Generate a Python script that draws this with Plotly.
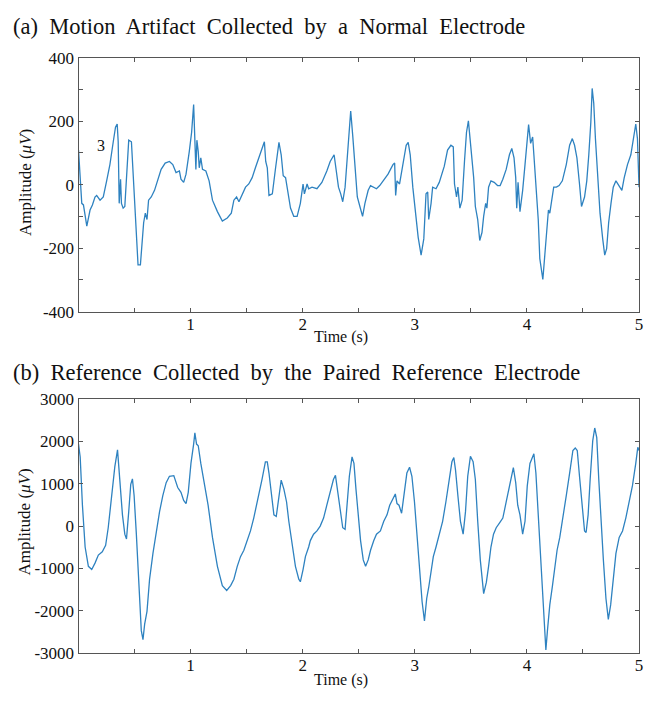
import plotly.graph_objects as go

# ---------------- data ----------------
time_a = [0.000, 0.015, 0.029, 0.044, 0.074, 0.103, 0.124, 0.147, 0.162, 0.192, 0.221, 0.251, 0.280, 0.310,
          0.330, 0.345, 0.354, 0.363, 0.375, 0.383, 0.398, 0.413, 0.434, 0.448, 0.472, 0.487, 0.501, 0.516,
          0.531, 0.552, 0.566, 0.581, 0.596, 0.611, 0.625, 0.649, 0.678, 0.708, 0.737, 0.773, 0.811, 0.841,
          0.870, 0.900, 0.914, 0.938, 0.959, 0.988, 1.009, 1.027, 1.038, 1.047, 1.056, 1.068, 1.077, 1.091,
          1.106, 1.136, 1.165, 1.195, 1.239, 1.283, 1.327, 1.363, 1.386, 1.410, 1.431, 1.460, 1.490, 1.519,
          1.549, 1.578, 1.608, 1.637, 1.658, 1.670, 1.684, 1.699, 1.729, 1.758, 1.788, 1.808, 1.826, 1.847,
          1.867, 1.891, 1.920, 1.950, 1.979, 2.003, 2.015, 2.039, 2.053, 2.083, 2.127, 2.171, 2.215, 2.245,
          2.280, 2.298, 2.319, 2.339, 2.357, 2.378, 2.398, 2.416, 2.428, 2.446, 2.466, 2.487, 2.510, 2.534,
          2.555, 2.584, 2.605, 2.628, 2.658, 2.687, 2.717, 2.761, 2.805, 2.820, 2.829, 2.841, 2.864, 2.894,
          2.923, 2.941, 2.959, 2.982, 3.006, 3.030, 3.056, 3.080, 3.100, 3.115, 3.124, 3.145, 3.159, 3.189,
          3.218, 3.263, 3.292, 3.322, 3.343, 3.354, 3.372, 3.384, 3.402, 3.422, 3.443, 3.461, 3.478, 3.496,
          3.511, 3.525, 3.540, 3.561, 3.579, 3.599, 3.614, 3.632, 3.643, 3.658, 3.679, 3.708, 3.738, 3.761,
          3.785, 3.815, 3.844, 3.865, 3.885, 3.900, 3.909, 3.921, 3.938, 3.962, 3.983, 4.003, 4.015, 4.033,
          4.051, 4.062, 4.080, 4.101, 4.115, 4.130, 4.142, 4.157, 4.174, 4.192, 4.204, 4.219, 4.239, 4.263,
          4.287, 4.316, 4.351, 4.381, 4.405, 4.425, 4.446, 4.469, 4.487, 4.514, 4.534, 4.552, 4.570, 4.582,
          4.596, 4.611, 4.632, 4.652, 4.676, 4.694, 4.711, 4.729, 4.750, 4.770, 4.794, 4.818, 4.847, 4.868,
          4.897, 4.927, 4.956, 4.971, 4.986, 5.000]
amp_a = [109, 22, -59, -64, -131, -80, -64, -39, -34, -49, -39, 12, 63, 135,
         181, 191, 135, -59, 17, -59, -74, -69, 43, 140, 135, 43, -80, -171,
         -253, -253, -171, -120, -90, -110, -49, -39, -18, 12, 48, 68, 73, 63,
         38, 43, 17, 7, 33, 104, 165, 252, 165, 48, 140, 104, 53, 84,
         48, 43, 12, -49, -85, -115, -105, -90, -49, -39, -54, -29, -8, 2,
         22, 53, 84, 109, 135, 73, 53, -34, -29, 53, 133, 94, 28, 22,
         -29, -74, -100, -100, -59, 2, -29, 2, -13, -8, -13, 7, 43, 73,
         94, 53, -8, -29, -54, -8, 84, 165, 232, 155, 43, -39, -69, -100,
         -59, -18, -3, -8, -13, -3, 12, 33, 63, 68, -34, 12, 2, 63,
         124, 133, 94, -8, -90, -166, -222, -171, -29, -23, -110, -59, -8, -13,
         7, 58, 109, 124, 119, 2, -39, -8, -74, -49, 73, 165, 201, 135,
         73, 22, -69, -110, -176, -151, -100, -59, -74, -8, 12, 7, -3, -3,
         17, 48, 94, 114, 84, 22, -74, 7, -85, -18, 63, 155, 189, 130,
         150, 94, -8, -110, -233, -263, -299, -233, -151, -80, -90, -49, -8, -8,
         -3, 12, 63, 124, 145, 124, 84, 2, -69, -39, 12, 94, 196, 303,
         257, 145, 12, -90, -171, -222, -202, -120, -59, -8, 12, -3, -18, 22,
         63, 94, 155, 191, 145, -8]

time_b = [0.000, 0.015, 0.035, 0.059, 0.088, 0.118, 0.147, 0.177, 0.212, 0.242, 0.265, 0.295, 0.324, 0.348,
          0.369, 0.392, 0.413, 0.428, 0.448, 0.466, 0.481, 0.496, 0.516, 0.531, 0.546, 0.560, 0.575, 0.590,
          0.611, 0.634, 0.664, 0.693, 0.723, 0.752, 0.782, 0.811, 0.850, 0.885, 0.914, 0.938, 0.959, 0.979,
          1.003, 1.027, 1.038, 1.053, 1.068, 1.091, 1.121, 1.156, 1.195, 1.239, 1.283, 1.322, 1.357, 1.386,
          1.416, 1.445, 1.475, 1.504, 1.534, 1.563, 1.608, 1.637, 1.667, 1.684, 1.699, 1.720, 1.743, 1.764,
          1.788, 1.808, 1.832, 1.856, 1.876, 1.906, 1.935, 1.965, 1.979, 2.003, 2.024, 2.053, 2.068, 2.097,
          2.127, 2.156, 2.186, 2.215, 2.245, 2.274, 2.292, 2.310, 2.333, 2.357, 2.378, 2.398, 2.416, 2.440,
          2.457, 2.475, 2.496, 2.516, 2.540, 2.561, 2.584, 2.605, 2.634, 2.658, 2.693, 2.723, 2.752, 2.776,
          2.805, 2.826, 2.841, 2.859, 2.882, 2.909, 2.929, 2.953, 2.974, 2.997, 3.018, 3.041, 3.065, 3.086,
          3.106, 3.124, 3.145, 3.165, 3.189, 3.218, 3.248, 3.277, 3.307, 3.331, 3.348, 3.363, 3.384, 3.407,
          3.431, 3.452, 3.472, 3.496, 3.520, 3.540, 3.561, 3.584, 3.614, 3.638, 3.658, 3.679, 3.702, 3.726,
          3.756, 3.785, 3.815, 3.844, 3.865, 3.879, 3.900, 3.918, 3.938, 3.962, 3.983, 4.003, 4.027, 4.062,
          4.080, 4.101, 4.121, 4.145, 4.169, 4.183, 4.204, 4.228, 4.248, 4.269, 4.293, 4.322, 4.351, 4.381,
          4.410, 4.431, 4.449, 4.469, 4.493, 4.514, 4.528, 4.546, 4.564, 4.587, 4.605, 4.623, 4.641, 4.661,
          4.682, 4.705, 4.726, 4.747, 4.770, 4.794, 4.823, 4.853, 4.882, 4.912, 4.941, 4.971, 4.989, 5.000]
amp_b = [1938, 1634, 494, -494, -950, -1026, -874, -684, -608, -456, -38, 722, 1406, 1801,
         1026, 266, -190, -304, 342, 988, 1117, 722, -190, -1026, -1862, -2470, -2683, -2318,
         -2014, -1254, -646, -114, 342, 722, 1026, 1178, 1193, 912, 798, 608, 532, 798,
         1482, 1938, 2204, 1938, 1900, 1482, 1026, 494, -266, -950, -1406, -1520, -1406, -1254,
         -950, -722, -570, -342, -114, 190, 722, 1102, 1520, 1520, 1254, 722, 266, 228,
         722, 1087, 874, 570, 114, -494, -950, -1254, -1315, -1026, -722, -494, -342, -190,
         -114, 0, 190, 494, 798, 1102, 1201, 874, 342, -38, -76, 494, 1178, 1634,
         1482, 874, 266, -342, -798, -950, -798, -570, -342, -190, -114, 114, 266, 494,
         646, 760, 532, 494, 304, 798, 1254, 1391, 1178, 570, -190, -1026, -1786, -2242,
         -1710, -1444, -1102, -722, -494, -190, 114, 570, 1102, 1520, 1619, 1330, 722, 114,
         -190, 342, 1178, 1649, 1520, 1102, 114, -798, -1596, -1330, -950, -494, -190, -38,
         76, 190, 570, 950, 1216, 1383, 1026, 494, 266, -190, 114, 950, 1482, 1710,
         1254, 190, -798, -1862, -2926, -2470, -1862, -1406, -950, -570, -266, 190, 722, 1254,
         1786, 1847, 1786, 1178, 418, -114, -152, 266, 1102, 2014, 2318, 2090, 1102, 114,
         -798, -1710, -2204, -1862, -1254, -646, -266, -114, 190, 570, 950, 1482, 1862, 1786]

x_tickvals = [0.5, 1, 1.5, 2, 2.5, 3, 3.5, 4, 4.5, 5]
x_ticktext = ["", "1", "", "2", "", "3", "", "4", "", "5"]
ya_tickvals = [-400, -300, -200, -100, 0, 100, 200, 300, 400]
ya_ticktext = ["-400", "", "-200", "", "0", "", "200", "", "400"]
yb_tickvals = [-3000, -2000, -1000, 0, 1000, 2000, 3000]
yb_ticktext = ["-3000", "-2000", "-1000", "0", "1000", "2000", "3000"]

title_a = "(a) Motion Artifact Collected by a Normal Electrode"
title_b = "(b) Reference Collected by the Paired Reference Electrode"
x_title = "Time (s)"
y_title = "Amplitude (<i>μV</i>)"

# ---------------- figure ----------------
W, H = 647, 702
FONT = "Liberation Serif, Times New Roman, serif"
LINE = "#2e82c0"
AX = "#555555"

fig = go.Figure()
fig.add_trace(go.Scatter(x=time_a, y=amp_a, mode="lines", line=dict(color=LINE, width=1.3),
                         xaxis="x", yaxis="y", showlegend=False))
fig.add_trace(go.Scatter(x=time_b, y=amp_b, mode="lines", line=dict(color=LINE, width=1.3),
                         xaxis="x2", yaxis="y2", showlegend=False))

def px_x(p):
    return p / W

def px_y(p):
    return 1 - p / H

def wide(s):
    # the reference titles use visibly wider word spacing
    return s.replace(" ", "\u00a0 ")

x_dom = [px_x(79), px_x(643)]
top_dom = [px_y(311), px_y(50)]
bot_dom = [px_y(662), px_y(401)]

axis_common = dict(showline=True, linecolor=AX, linewidth=1, mirror="ticks", ticks="inside",
                   ticklen=4, tickcolor=AX, showgrid=False, zeroline=False,
                   ticklabeloverflow="allow",
                   tickfont=dict(family=FONT, size=17, color="#111111"))

fig.update_layout(
    width=W, height=H, margin=dict(l=0, r=0, t=0, b=0),
    paper_bgcolor="white", plot_bgcolor="white",
    xaxis=dict(domain=x_dom, range=[0, 5], tickvals=x_tickvals, ticktext=x_ticktext,
               anchor="y", ticklabelstandoff=-3, **axis_common),
    yaxis=dict(domain=top_dom, range=[-400, 400], tickvals=ya_tickvals, ticktext=ya_ticktext,
               anchor="x", **axis_common),
    xaxis2=dict(domain=x_dom, range=[0, 5], tickvals=x_tickvals, ticktext=x_ticktext,
                anchor="y2", ticklabelstandoff=-3, **axis_common),
    yaxis2=dict(domain=bot_dom, range=[-3000, 3000], tickvals=yb_tickvals, ticktext=yb_ticktext,
                anchor="x2", **axis_common),
)

TITLE_SIZE = 22.5
ann = []
ann.append(dict(text=wide(title_a), x=px_x(11), y=px_y(18), xref="paper", yref="paper",
                xanchor="left", yanchor="middle", showarrow=False,
                font=dict(family=FONT, size=TITLE_SIZE, color="#111111")))
ann.append(dict(text=wide(title_b), x=px_x(11), y=px_y(374), xref="paper", yref="paper",
                xanchor="left", yanchor="middle", showarrow=False,
                font=dict(family=FONT, size=TITLE_SIZE, color="#111111")))
for yc in (337, 690):
    ann.append(dict(text=x_title, x=px_x(343), y=px_y(yc), xref="paper", yref="paper",
                    xanchor="center", yanchor="middle", showarrow=False,
                    font=dict(family=FONT, size=16, color="#111111")))
for yc in (178, 527):
    ann.append(dict(text=y_title, x=px_x(25), y=px_y(yc), xref="paper", yref="paper",
                    xanchor="center", yanchor="middle", showarrow=False, textangle=-90,
                    font=dict(family=FONT, size=17, color="#111111")))
ann.append(dict(text="3", x=0.204, y=122, xref="x", yref="y", showarrow=False,
                font=dict(family=FONT, size=16, color="#111111")))
fig.update_layout(annotations=ann)

fig.write_html("out.html")
